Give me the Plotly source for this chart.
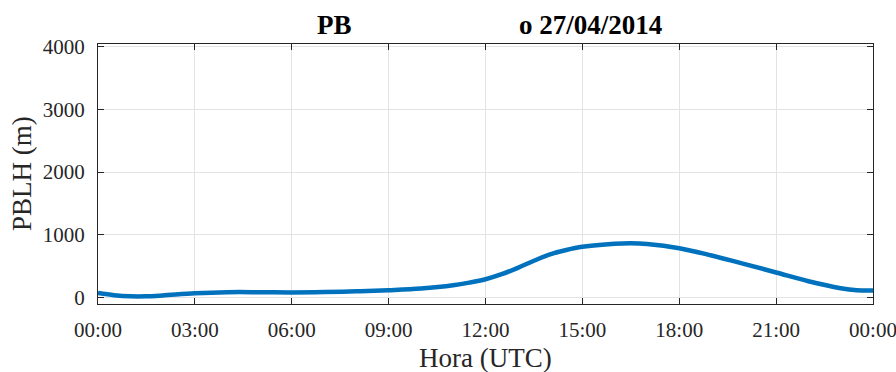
import plotly.graph_objects as go

# Boundary-layer height over the day (hours since 00:00 UTC)
hours = [0, 0.5, 1, 1.5, 2, 3, 4, 5, 6, 7, 8, 9, 10, 11, 11.5, 12, 12.5, 13, 13.5, 14, 14.5, 15, 16, 16.5, 17, 18, 19, 20, 21, 22, 23, 23.5, 24]
pblh_m = [75, 40, 22, 22, 35, 70, 88, 88, 84, 90, 102, 120, 146, 198, 240, 294, 374, 476, 588, 690, 759, 810, 858, 866, 855, 789, 672, 540, 402, 262, 152, 120, 116]

x_tick_vals = [0, 3, 6, 9, 12, 15, 18, 21, 24]
x_tick_text = ["00:00", "03:00", "06:00", "09:00", "12:00", "15:00", "18:00", "21:00", "00:00"]
y_tick_vals = [0, 1000, 2000, 3000, 4000]

serif = "Liberation Serif, Times New Roman, serif"
axis_color = "#262626"
text_color = "#262626"

W, H = 896, 372
L, R, T, B = 98, 23, 44, 68

fig = go.Figure()
fig.add_trace(go.Scatter(
    x=hours, y=pblh_m, mode="lines",
    line=dict(color="#0072BD", width=4.5, shape="spline", smoothing=1.0),
    showlegend=False, hoverinfo="skip",
))

axis_common = dict(
    showline=True, linecolor=axis_color, linewidth=1, mirror="ticks",
    ticks="inside", ticklen=6, tickcolor=axis_color, tickwidth=1,
    showgrid=True, gridcolor="#e3e3e3", gridwidth=1, zeroline=False,
    tickfont=dict(family=serif, size=21, color=text_color),
    automargin=False, ticklabeloverflow="allow",
)

fig.update_xaxes(range=[0, 24], tickvals=x_tick_vals, ticktext=x_tick_text,
                 ticklabelstandoff=7, **axis_common)
fig.update_yaxes(range=[-100, 4040], tickvals=y_tick_vals,
                 ticklabelstandoff=8, **axis_common)

plot_w = W - L - R
plot_h = H - T - B


def px_to_paper(px, py):
    return (px - L) / plot_w, (H - B - py) / plot_h


def label(text, px, py, size, bold=False, angle=0, color=text_color):
    xp, yp = px_to_paper(px, py)
    fig.add_annotation(
        text=f"<b>{text}</b>" if bold else text,
        x=xp, y=yp, xref="paper", yref="paper",
        xanchor="center", yanchor="middle", textangle=angle,
        showarrow=False, font=dict(family=serif, size=size, color=color),
    )


# chart title, split in two parts
label("PB", 334, 25, 27, bold=True, color="#000000")
label("o 27/04/2014", 590, 25, 27, bold=True, color="#000000")

# axis titles
label("Hora (UTC)", 485, 358, 27)
label("PBLH (m)", 22, 174, 27, angle=-90)

fig.update_layout(
    width=W, height=H,
    margin=dict(l=L, r=R, t=T, b=B),
    paper_bgcolor="white", plot_bgcolor="white",
)

fig.write_html("out.html")
